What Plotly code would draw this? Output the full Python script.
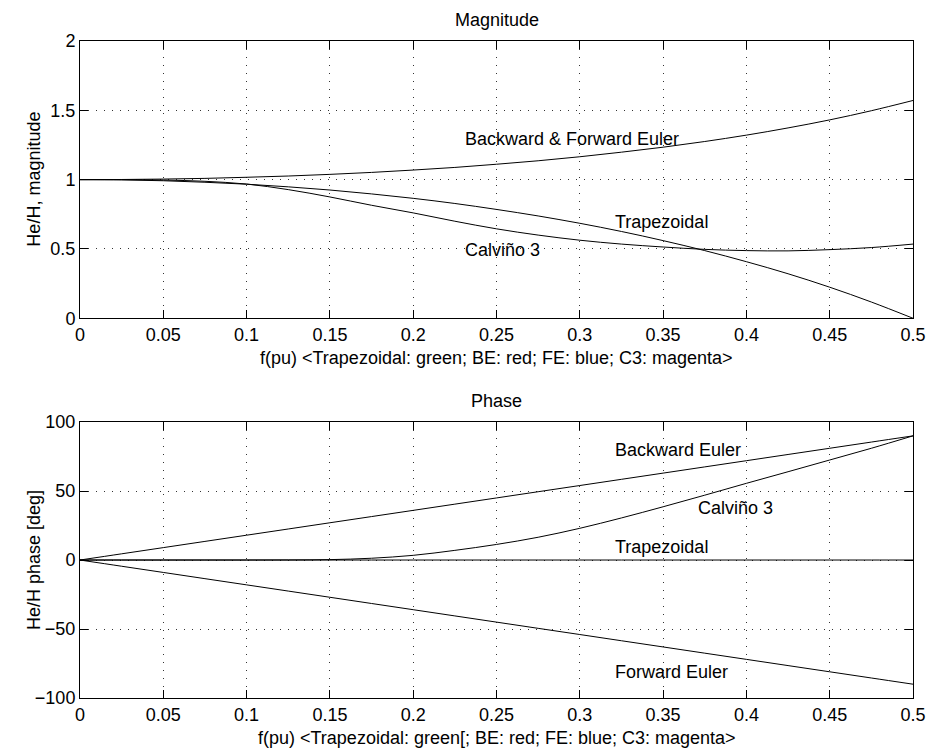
import plotly.graph_objects as go

# ---- data ----
f = [0, 0.025, 0.05, 0.075, 0.1, 0.125, 0.15, 0.175, 0.2, 0.225, 0.25,
     0.275, 0.3, 0.325, 0.35, 0.375, 0.4, 0.425, 0.45, 0.475, 0.5]

mag_euler = [1.000, 1.001, 1.004, 1.009, 1.017, 1.026, 1.038, 1.052, 1.069, 1.088, 1.111,
             1.136, 1.165, 1.198, 1.234, 1.275, 1.321, 1.373, 1.431, 1.497, 1.571]
mag_trap = [1.000, 0.998, 0.992, 0.981, 0.967, 0.948, 0.925, 0.897, 0.865, 0.828, 0.785,
            0.738, 0.685, 0.626, 0.560, 0.488, 0.408, 0.321, 0.224, 0.117, 0.000]
mag_c3 = [1.000, 1.000, 0.997, 0.988, 0.968, 0.928, 0.875, 0.815, 0.760, 0.700, 0.645,
          0.600, 0.563, 0.535, 0.514, 0.497, 0.488, 0.486, 0.495, 0.510, 0.535]

ph_be = [0, 4.5, 9, 13.5, 18, 22.5, 27, 31.5, 36, 40.5, 45,
         49.5, 54, 58.5, 63, 67.5, 72, 76.5, 81, 85.5, 90]
ph_fe = [0, -4.5, -9, -13.5, -18, -22.5, -27, -31.5, -36, -40.5, -45,
         -49.5, -54, -58.5, -63, -67.5, -72, -76.5, -81, -85.5, -90]
ph_trap = [0] * 21
ph_c3 = [0, 0, 0, 0, 0, 0.05, 0.3, 1.3, 3.4, 7, 11.3,
         16.5, 23, 30.5, 38.6, 47, 55.6, 64, 72.5, 81, 90]

xticks = [0, 0.05, 0.1, 0.15, 0.2, 0.25, 0.3, 0.35, 0.4, 0.45, 0.5]
xtick_text = ["0", "0.05", "0.1", "0.15", "0.2", "0.25", "0.3", "0.35", "0.4", "0.45", "0.5"]
mag_ticks = [0, 0.5, 1, 1.5, 2]
mag_tick_text = ["0", "0.5", "1", "1.5", "2"]
ph_ticks = [-100, -50, 0, 50, 100]
ph_tick_text = ["\u2212100", "\u221250", "0", "50", "100"]

mag_labels = [("Backward & Forward Euler", 0.230, 1.296),
              ("Trapezoidal", 0.320, 0.695),
              ("Calviño 3", 0.230, 0.495)]
ph_labels = [("Backward Euler", 0.320, 79.7),
             ("Calviño 3", 0.370, 37.9),
             ("Trapezoidal", 0.320, 9.6),
             ("Forward Euler", 0.320, -81.4)]

FONT = "Liberation Sans, Arial, Helvetica, sans-serif"
FS = 18

fig = go.Figure()
for ys in (mag_euler, mag_trap, mag_c3):
    fig.add_trace(go.Scatter(x=f, y=ys, mode="lines", line=dict(color="black", width=1, shape="spline"),
                             xaxis="x", yaxis="y", showlegend=False, hoverinfo="skip"))
for ys in (ph_be, ph_fe, ph_trap, ph_c3):
    fig.add_trace(go.Scatter(x=f, y=ys, mode="lines", line=dict(color="black", width=1, shape="spline"),
                             xaxis="x2", yaxis="y2", showlegend=False, hoverinfo="skip"))

ax_common = dict(showline=True, linecolor="black", linewidth=1, mirror="ticks",
                 ticks="inside", ticklen=8, tickcolor="black", tickwidth=1,
                 showgrid=True, gridcolor="#333333", gridwidth=1, griddash="1px,7px",
                 zeroline=False, automargin=False, tickfont=dict(size=FS, color="black"))

fig.update_layout(
    width=928, height=748,
    paper_bgcolor="white", plot_bgcolor="white",
    font=dict(family=FONT, size=FS, color="black"),
    margin=dict(l=79.5, r=15, t=40.7, b=50),
    xaxis=dict(ax_common, domain=[0, 1], range=[0, 0.5], anchor="y",
               tickvals=xticks, ticktext=xtick_text),
    yaxis=dict(ax_common, domain=[0.578, 1], range=[0, 2], anchor="x",
               tickvals=mag_ticks, ticktext=mag_tick_text),
    xaxis2=dict(ax_common, domain=[0, 1], range=[0, 0.5], anchor="y2",
                tickvals=xticks, ticktext=xtick_text),
    yaxis2=dict(ax_common, domain=[0, 0.42], range=[-100, 100], anchor="x2",
                tickvals=ph_ticks, ticktext=ph_tick_text),
)

ann = []
for txt, x, y in mag_labels:
    ann.append(dict(text=txt, x=x, y=y, xref="x", yref="y", xanchor="left", yanchor="middle",
                    showarrow=False, font=dict(size=FS, color="black")))
for txt, x, y in ph_labels:
    ann.append(dict(text=txt, x=x, y=y, xref="x2", yref="y2", xanchor="left", yanchor="middle",
                    showarrow=False, font=dict(size=FS, color="black")))

def top_title(txt, yref):
    return dict(text=txt, x=0.5, y=1, xref="x domain", yref=yref, xanchor="center", yanchor="middle",
                yshift=21, showarrow=False, font=dict(size=FS, color="black"))

def xlab(txt, yref):
    return dict(text=txt, x=0.5, y=0, xref="x domain", yref=yref, xanchor="center", yanchor="middle",
                yshift=-40, showarrow=False, font=dict(size=FS, color="black"))

def ylab(txt, yref):
    return dict(text=txt, x=0, y=0.5, xref="x domain", yref=yref, xanchor="center", yanchor="middle",
                xshift=-46, textangle=-90, showarrow=False, font=dict(size=FS, color="black"))

ann += [top_title("Magnitude", "y domain"), top_title("Phase", "y2 domain"),
        xlab("f(pu) <Trapezoidal: green; BE: red; FE: blue; C3: magenta>", "y domain"),
        xlab("f(pu) <Trapezoidal: green[; BE: red; FE: blue; C3: magenta>", "y2 domain"),
        ylab("He/H, magnitude", "y domain"), ylab("He/H phase [deg]", "y2 domain")]
fig.update_layout(annotations=ann)

# remove the default 8px page margin so the 928x748 figure fills the window exactly
fig.write_html("out.html", config={"displayModeBar": False},
               post_script="document.body.style.margin='0';document.body.style.overflow='hidden';")
